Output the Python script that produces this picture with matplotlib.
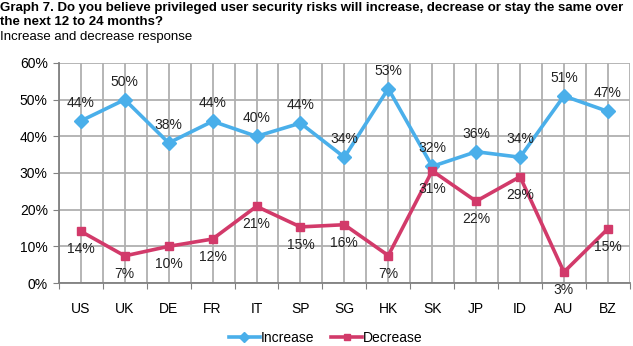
import numpy as np
import matplotlib.pyplot as plt
from matplotlib.ticker import FixedLocator, PercentFormatter

plt.rcParams['font.family'] = ['Liberation Sans', 'DejaVu Sans']

countries = ["US", "UK", "DE", "FR", "IT", "SP", "SG", "HK", "SK", "JP", "ID", "AU", "BZ"]
increase = [44.2, 50, 38.2, 44.1, 40, 43.6, 34.3, 53, 31.8, 35.8, 34.3, 51, 46.8]
decrease = [14.1, 7.4, 10, 12, 20.9, 15.3, 15.9, 7.5, 30.6, 22.3, 29, 3, 14.8]
inc_labels = ["44%", "50%", "38%", "44%", "40%", "44%", "34%", "53%", "32%", "36%", "34%", "51%", "47%"]
dec_labels = ["14%", "7%", "10%", "12%", "21%", "15%", "16%", "7%", "31%", "22%", "29%", "3%", "15%"]

blue = "#4AAFEA"
red = "#D23A6A"

fig = plt.figure(figsize=(6.33, 3.46), dpi=100)
ax = fig.add_axes([0.093, 0.182, 0.902, 0.636])

x = np.arange(len(countries))
ax.plot(x, increase, color=blue, lw=2.6, marker="D", ms=7, label="Increase", zorder=3)
ax.plot(x, decrease, color=red, lw=2.6, marker="s", ms=5.5, label="Decrease", zorder=3)

for xi, v, t in zip(x, increase, inc_labels):
    ax.annotate(t, (xi, v), xytext=(0, 13), textcoords="offset points",
                ha="center", va="center", fontsize=10, color="#222222")
for xi, v, t in zip(x, decrease, dec_labels):
    ax.annotate(t, (xi, v), xytext=(0, -13), textcoords="offset points",
                ha="center", va="center", fontsize=10, color="#222222")

ax.set_xlim(-0.5, len(countries) - 0.5)
ax.set_ylim(0, 60)
ax.yaxis.set_major_locator(FixedLocator([0, 10, 20, 30, 40, 50, 60]))
ax.yaxis.set_major_formatter(PercentFormatter(decimals=0))

ax.xaxis.set_major_locator(FixedLocator(np.arange(-0.5, len(countries), 1)))
ax.xaxis.set_minor_locator(FixedLocator(x))
ax.set_xticklabels([""] * (len(countries) + 1))
ax.set_xticklabels(countries, minor=True)
ax.tick_params(axis="x", which="minor", length=0, pad=14, labelsize=10)
ax.tick_params(axis="x", which="major", length=4, color="#808080")
ax.tick_params(axis="y", length=4, color="#808080", labelsize=10, pad=4)

ax.grid(True, which="both", color="#B0B0B0", lw=1.3, zorder=0)
ax.set_axisbelow(True)
for s in ["top", "right"]:
    ax.spines[s].set_visible(False)
ax.spines["left"].set_color("#808080")
ax.spines["bottom"].set_color("#808080")
ax.spines["left"].set_linewidth(1.3)
ax.spines["bottom"].set_linewidth(1.3)

fig.legend(loc="center", bbox_to_anchor=(326 / 633, 1 - 338 / 346), ncol=2, frameon=False,
           fontsize=10, handlelength=2.2, handletextpad=0.1, columnspacing=1.2,
           markerscale=0.75, borderpad=0.1)

fig.text(0.0, 1 - 8 / 346, "Graph 7. Do you believe privileged user security risks will increase, decrease or stay the same over",
         fontsize=9.5, fontweight="bold", va="center", ha="left")
fig.text(0.0, 1 - 22 / 346, "the next 12 to 24 months?", fontsize=9.5, fontweight="bold", va="center", ha="left")
fig.text(0.0, 1 - 37 / 346, "Increase and decrease response", fontsize=9.5, va="center", ha="left")

fig.savefig("out.png", dpi=100)
